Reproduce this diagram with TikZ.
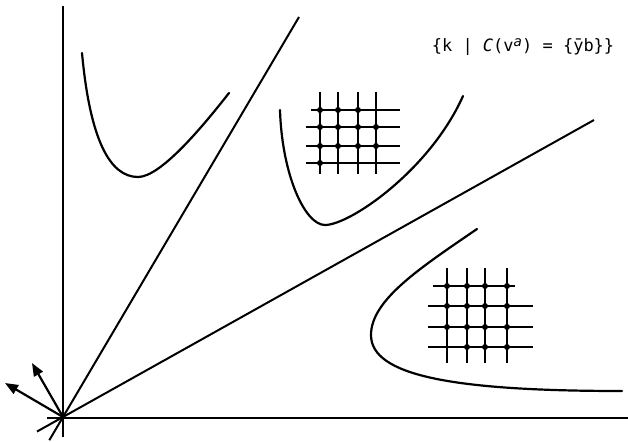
\documentclass[tikz,border=0pt]{standalone}
\usepackage{fontspec}
\newfontfamily\monofont{DejaVu Sans Mono}
\usetikzlibrary{arrows.meta,calc}
\begin{document}
\begin{tikzpicture}[x=1pt,y=-1pt,
  axisline/.style={line width=2pt},
  curveline/.style={line width=2.2pt,line cap=round},
  gridline/.style={line width=2pt},
  gdot/.style={fill=black},
  vecarrow/.style={line width=2.2pt,-{Triangle[length=13pt,width=10pt]}}]
\useasboundingbox (0,0) rectangle (628,441);
\coordinate (O) at (63,417);
% axes
\draw[axisline] (63,6) -- (63,437);
\draw[axisline] (47,418) -- (628,418);
% rays
\coordinate (R1) at (299,17);
\coordinate (R2) at (594,120);
\draw[axisline] ($(O)!-0.058!(R1)$) -- (R1);
\draw[axisline] ($(O)!-0.049!(R2)$) -- (R2);
% arrows
\coordinate (A1) at (32,363);
\coordinate (A2) at (5,383);
\draw[vecarrow] (O) -- (A1);
\draw[vecarrow] (O) -- (A2);
% curves
\draw[curveline] (82,53) .. controls (90,140) and (110,177) .. (138,177)
                 .. controls (160,177) and (200,130) .. (229,93);
\draw[curveline] (280,110) .. controls (282,175) and (305,225) .. (325,225)
                 .. controls (350,225) and (430,170) .. (463,96);
\draw[curveline] (477,229) .. controls (420,268) and (371,300) .. (371,335)
                 .. controls (371,375) and (450,391) .. (622,391);
% grid 1
\foreach \x in {320,338,358,376} \draw[gridline] (\x,92) -- (\x,174);
\draw[gridline] (311,110) -- (400,110);
\foreach \y in {127,146,163} \draw[gridline] (306,\y) -- (400,\y);
\foreach \p in {(320,110),(338,110),(358,110),
                (320,127),(338,127),(358,127),(376,127),
                (320,146),(338,146),(358,146),(376,146),
                (320,163)} \fill[gdot] \p circle (3);
% grid 2
\foreach \x in {447,467,485,507} \draw[gridline] (\x,268) -- (\x,363);
\draw[gridline] (433,286) -- (515,286);
\foreach \y in {306,327,347} \draw[gridline] (428,\y) -- (533,\y);
\foreach \p in {(447,286),(467,286),(485,286),(507,286),
                (447,306),(467,306),(485,306),(507,306),
                (447,327),(467,327),(485,327),(507,327),
                (467,347),(485,347),(507,347)} \fill[gdot] \p circle (3);
% label
\node[font=\monofont\fontsize{17}{19}\selectfont,inner sep=0pt] (lab) at (523,47)
  {\{k | \textit{C}(v\raisebox{0.55ex}{\fontsize{14}{15}\selectfont\textit{a}}) = \{ȳb\}\}};
\end{tikzpicture}
\end{document}
